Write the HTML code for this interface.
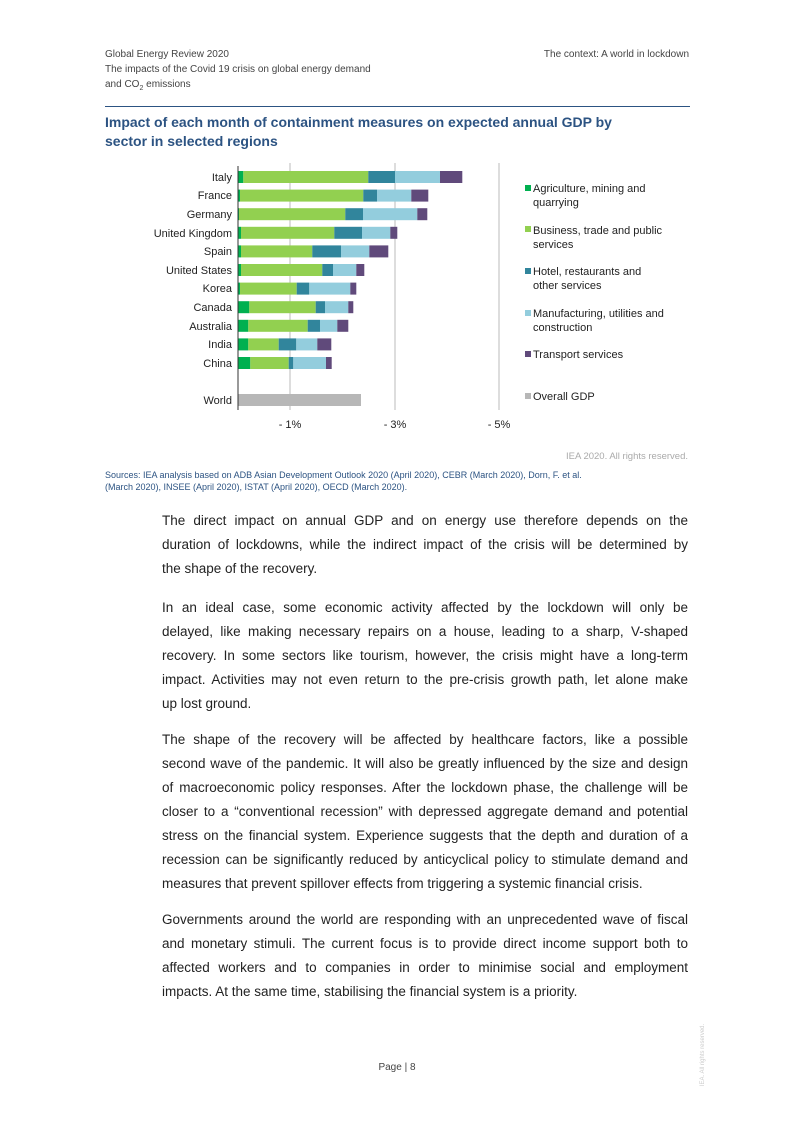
<!DOCTYPE html>
<html><head><meta charset="utf-8"><style>
body{margin:0;background:#fff;}
#pg{position:relative;width:794px;height:1123px;overflow:hidden;font-family:"Liberation Sans",sans-serif;}
.hd{position:absolute;font-size:10px;color:#444;line-height:15px;}
.t{position:absolute;left:105px;top:113px;font-size:14px;font-weight:bold;color:#2c5382;line-height:19px;}
.p{position:absolute;left:162px;width:526px;font-size:13.5px;color:#222;line-height:24px;}
.p div{text-align:justify;text-align-last:justify;white-space:nowrap;}
.p div.l{text-align-last:left;}
</style></head><body><div id="pg">
<div class="hd" style="left:105px;top:47px">Global Energy Review 2020<br>The impacts of the Covid 19 crisis on global energy demand<br>and CO<sub style="font-size:7px">2</sub> emissions</div>
<div class="hd" style="right:105px;top:47px">The context: A world in lockdown</div>
<div style="position:absolute;left:105px;top:106px;width:585px;height:1px;background:#2c5382"></div>
<div class="t">Impact of each month of containment measures on expected annual GDP by<br>sector in selected regions</div>
<svg style="position:absolute;left:0;top:0" width="794" height="495" font-family="Liberation Sans, sans-serif" font-size="11">
<g stroke="#ddd" stroke-width="2"><line x1="290" y1="163" x2="290" y2="410"/><line x1="395" y1="163" x2="395" y2="410"/><line x1="499" y1="163" x2="499" y2="410"/></g>
<g text-anchor="end" fill="#222">
<text x="232" y="181">Italy</text><text x="232" y="199">France</text><text x="232" y="218">Germany</text><text x="232" y="237">United Kingdom</text><text x="232" y="255">Spain</text><text x="232" y="274">United States</text><text x="232" y="292">Korea</text><text x="232" y="311">Canada</text><text x="232" y="330">Australia</text><text x="232" y="348">India</text><text x="232" y="367">China</text><text x="232" y="404">World</text></g>
<g>
<rect x="238" y="171" width="5.3" height="12" fill="#00b050"/><rect x="243.3" y="171" width="125" height="12" fill="#92d050"/><rect x="368.3" y="171" width="26.7" height="12" fill="#31859c"/><rect x="395" y="171" width="45" height="12" fill="#93cddd"/><rect x="440" y="171" width="22.3" height="12" fill="#604a7b"/>
<rect x="238" y="189.6" width="2" height="12" fill="#00b050"/><rect x="240" y="189.6" width="123.3" height="12" fill="#92d050"/><rect x="363.3" y="189.6" width="13.7" height="12" fill="#31859c"/><rect x="377" y="189.6" width="34.3" height="12" fill="#93cddd"/><rect x="411.3" y="189.6" width="17" height="12" fill="#604a7b"/>
<rect x="238" y="208.2" width="1" height="12" fill="#00b050"/><rect x="239" y="208.2" width="106.3" height="12" fill="#92d050"/><rect x="345.3" y="208.2" width="17.7" height="12" fill="#31859c"/><rect x="363" y="208.2" width="54.3" height="12" fill="#93cddd"/><rect x="417.3" y="208.2" width="10" height="12" fill="#604a7b"/>
<rect x="238" y="226.8" width="3" height="12" fill="#00b050"/><rect x="241" y="226.8" width="93.3" height="12" fill="#92d050"/><rect x="334.3" y="226.8" width="27.7" height="12" fill="#31859c"/><rect x="362" y="226.8" width="28.3" height="12" fill="#93cddd"/><rect x="390.3" y="226.8" width="7" height="12" fill="#604a7b"/>
<rect x="238" y="245.4" width="3" height="12" fill="#00b050"/><rect x="241" y="245.4" width="71.3" height="12" fill="#92d050"/><rect x="312.3" y="245.4" width="28.7" height="12" fill="#31859c"/><rect x="341" y="245.4" width="28.3" height="12" fill="#93cddd"/><rect x="369.3" y="245.4" width="19" height="12" fill="#604a7b"/>
<rect x="238" y="264" width="3" height="12" fill="#00b050"/><rect x="241" y="264" width="81.3" height="12" fill="#92d050"/><rect x="322.3" y="264" width="10.7" height="12" fill="#31859c"/><rect x="333" y="264" width="23.3" height="12" fill="#93cddd"/><rect x="356.3" y="264" width="8" height="12" fill="#604a7b"/>
<rect x="238" y="282.6" width="2" height="12" fill="#00b050"/><rect x="240" y="282.6" width="56.7" height="12" fill="#92d050"/><rect x="296.7" y="282.6" width="12.6" height="12" fill="#31859c"/><rect x="309.3" y="282.6" width="41" height="12" fill="#93cddd"/><rect x="350.3" y="282.6" width="6" height="12" fill="#604a7b"/>
<rect x="238" y="301.2" width="11.3" height="12" fill="#00b050"/><rect x="249.3" y="301.2" width="66.4" height="12" fill="#92d050"/><rect x="315.7" y="301.2" width="9.3" height="12" fill="#31859c"/><rect x="325" y="301.2" width="23.3" height="12" fill="#93cddd"/><rect x="348.3" y="301.2" width="5" height="12" fill="#604a7b"/>
<rect x="238" y="319.8" width="10.3" height="12" fill="#00b050"/><rect x="248.3" y="319.8" width="59.4" height="12" fill="#92d050"/><rect x="307.7" y="319.8" width="12.3" height="12" fill="#31859c"/><rect x="320" y="319.8" width="17.3" height="12" fill="#93cddd"/><rect x="337.3" y="319.8" width="11" height="12" fill="#604a7b"/>
<rect x="238" y="338.4" width="10.3" height="12" fill="#00b050"/><rect x="248.3" y="338.4" width="30.4" height="12" fill="#92d050"/><rect x="278.7" y="338.4" width="17.6" height="12" fill="#31859c"/><rect x="296.3" y="338.4" width="21" height="12" fill="#93cddd"/><rect x="317.3" y="338.4" width="14" height="12" fill="#604a7b"/>
<rect x="238" y="357" width="12.3" height="12" fill="#00b050"/><rect x="250.3" y="357" width="38.4" height="12" fill="#92d050"/><rect x="288.7" y="357" width="4.6" height="12" fill="#31859c"/><rect x="293.3" y="357" width="32.7" height="12" fill="#93cddd"/><rect x="326" y="357" width="5.7" height="12" fill="#604a7b"/>
<rect x="238" y="394" width="123" height="12" fill="#b7b7b7"/>
</g>
<line x1="238" y1="166" x2="238" y2="410" stroke="#333" stroke-width="1"/>
<g text-anchor="middle" fill="#222"><text x="290" y="428">- 1%</text><text x="395" y="428">- 3%</text><text x="499" y="428">- 5%</text></g>
<g fill="#222">
<rect x="525" y="185" width="6" height="6" fill="#00b050"/><text x="533" y="192">Agriculture, mining and</text><text x="533" y="206">quarrying</text>
<rect x="525" y="226" width="6" height="6" fill="#92d050"/><text x="533" y="234">Business, trade and public</text><text x="533" y="248">services</text>
<rect x="525" y="268" width="6" height="6" fill="#31859c"/><text x="533" y="275">Hotel, restaurants and</text><text x="533" y="289">other services</text>
<rect x="525" y="310" width="6" height="6" fill="#93cddd"/><text x="533" y="317">Manufacturing, utilities and</text><text x="533" y="331">construction</text>
<rect x="525" y="351" width="6" height="6" fill="#604a7b"/><text x="533" y="358">Transport services</text>
<rect x="525" y="393" width="6" height="6" fill="#b7b7b7"/><text x="533" y="400">Overall GDP</text></g>
<text x="688" y="459" text-anchor="end" font-size="9.5" fill="#aaa">IEA 2020. All rights reserved.</text>
<text x="105" y="478" font-size="9" fill="#2c5382">Sources: IEA analysis based on ADB Asian Development Outlook 2020 (April 2020), CEBR (March 2020), Dorn, F. et al.</text>
</svg>
<div style="position:absolute;left:105px;top:482px;font-size:9px;color:#2c5382">(March 2020), INSEE (April 2020), ISTAT (April 2020), OECD (March 2020).</div>
<div class="p" style="top:509px"><div>The direct impact on annual GDP and on energy use therefore depends on the</div><div>duration of lockdowns, while the indirect impact of the crisis will be determined by</div><div class="l">the shape of the recovery.</div></div>
<div class="p" style="top:596px"><div>In an ideal case, some economic activity affected by the lockdown will only be</div><div>delayed, like making necessary repairs on a house, leading to a sharp, V-shaped</div><div>recovery. In some sectors like tourism, however, the crisis might have a long-term</div><div>impact. Activities may not even return to the pre-crisis growth path, let alone make</div><div class="l">up lost ground.</div></div>
<div class="p" style="top:728px"><div>The shape of the recovery will be affected by healthcare factors, like a possible</div><div>second wave of the pandemic. It will also be greatly influenced by the size and design</div><div>of macroeconomic policy responses. After the lockdown phase, the challenge will be</div><div>closer to a “conventional recession” with depressed aggregate demand and potential</div><div>stress on the financial system. Experience suggests that the depth and duration of a</div><div>recession can be significantly reduced by anticyclical policy to stimulate demand and</div><div class="l">measures that prevent spillover effects from triggering a systemic financial crisis.</div></div>
<div class="p" style="top:908px"><div>Governments around the world are responding with an unprecedented wave of fiscal</div><div>and monetary stimuli. The current focus is to provide direct income support both to</div><div>affected workers and to companies in order to minimise social and employment</div><div class="l">impacts. At the same time, stabilising the financial system is a priority.</div></div>
<div style="position:absolute;left:0;width:794px;top:1062px;text-align:center;font-size:10px;color:#444">Page | 8</div>
<div style="position:absolute;left:672px;top:1052px;transform:rotate(-90deg);font-size:6px;color:#ccc;white-space:nowrap">IEA. All rights reserved.</div>
</div></body></html>
